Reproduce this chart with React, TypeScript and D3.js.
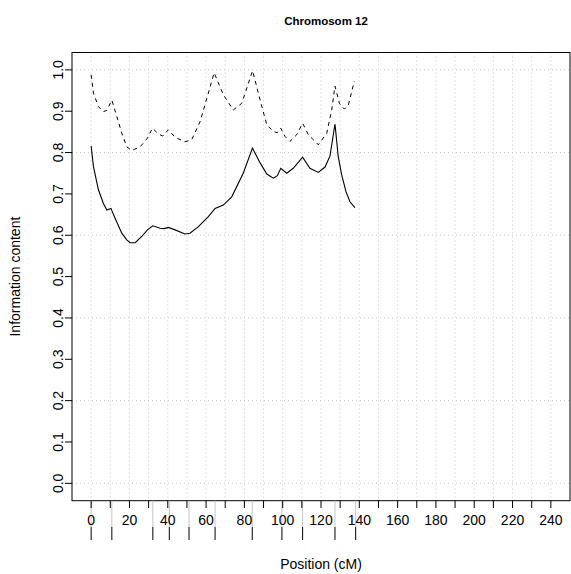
import React from "react";
import * as d3 from "d3";

const title = "Chromosom 12";
const xLabel = "Position (cM)";
const yLabel = "Information content";

const dashPos = [0, 1.2, 3.8, 6.4, 8.2, 10.8, 13.4, 16, 18.6, 21.2, 25.6, 29.4, 32, 35.1, 37.4, 40.3, 43.8, 49, 52.5, 56.9, 61.2, 64.2, 69, 74.2, 78.6, 84.3, 88.2, 91.7, 95.1, 97.2, 99, 101.2, 103.8, 107.3, 110.4, 113.4, 118.6, 123, 125.6, 127.3, 129.6, 132.2, 134.3, 137.4];
const dashVal = [0.988, 0.944, 0.911, 0.899, 0.902, 0.927, 0.887, 0.847, 0.814, 0.805, 0.814, 0.835, 0.859, 0.845, 0.84, 0.855, 0.837, 0.826, 0.831, 0.875, 0.944, 0.993, 0.94, 0.903, 0.919, 0.998, 0.927, 0.867, 0.851, 0.848, 0.859, 0.839, 0.827, 0.843, 0.871, 0.843, 0.819, 0.847, 0.903, 0.961, 0.919, 0.905, 0.915, 0.973];

const solidPos = [0, 1.2, 3.8, 6.4, 8.2, 10.3, 12.5, 16, 18.6, 20.3, 23, 26.4, 29.4, 32.2, 36, 38.1, 40.3, 43.8, 49, 51.6, 56, 61.2, 64.7, 69, 73.4, 79.4, 84.2, 88.2, 91.7, 95.1, 97.2, 99, 102.1, 105.5, 110.4, 114.2, 118.6, 122.1, 124.7, 127.3, 129, 130.8, 133, 135.1, 137.7];
const solidVal = [0.816, 0.766, 0.71, 0.677, 0.661, 0.665, 0.641, 0.605, 0.589, 0.582, 0.582, 0.597, 0.613, 0.623, 0.617, 0.616, 0.619, 0.613, 0.603, 0.605, 0.621, 0.645, 0.665, 0.673, 0.693, 0.75, 0.811, 0.775, 0.748, 0.738, 0.744, 0.762, 0.75, 0.762, 0.789, 0.762, 0.752, 0.765, 0.792, 0.869, 0.79, 0.746, 0.706, 0.681, 0.667];

const markers = [0, 10.8, 32.2, 40.8, 51.1, 64.7, 84.1, 99.6, 110.4, 127.3, 138.1];

const xTicks = d3.range(0, 241, 10);
const xTickLabels = d3.range(0, 241, 20);
const yTicks = d3.range(0, 1.001, 0.1);
const yGrid = d3.range(0, 1.001, 0.2);

const W = 571, H = 574;
const L = 72, R = 570, T = 52.5, B = 500.7;
const FONT = "'Liberation Sans', Arial, Helvetica, sans-serif";

export default function App() {
  const x = d3.scaleLinear().domain([-10, 250]).range([L, R]);
  const y = d3.scaleLinear().domain([-0.042, 1.042]).range([B, T]);
  const line = d3.line<[number, number]>().x(d => x(d[0])).y(d => y(d[1]));
  const dashPts = dashPos.map((p, i) => [p, dashVal[i]] as [number, number]);
  const solidPts = solidPos.map((p, i) => [p, solidVal[i]] as [number, number]);

  return (
    <svg width={W} height={H} style={{ position: "absolute", left: 0, top: 0, background: "#fff" }} fontFamily={FONT}>
      <rect x={0} y={0} width={W} height={H} fill="#fff" />
      {/* grid */}
      {xTicks.map(t => (
        <line key={"gx" + t} x1={x(t)} x2={x(t)} y1={T} y2={B} stroke="#c8c8c8" strokeDasharray="1,3" />
      ))}
      {yGrid.map(t => (
        <line key={"gy" + t} x1={L} x2={R} y1={y(t)} y2={y(t)} stroke="#c8c8c8" strokeDasharray="1,3" />
      ))}
      {/* curves */}
      <path d={line(dashPts) || ""} fill="none" stroke="#000" strokeWidth={1} strokeDasharray="4,4" />
      <path d={line(solidPts) || ""} fill="none" stroke="#000" strokeWidth={1.1} />
      {/* box */}
      <rect x={L} y={T} width={R - L} height={B - T} fill="none" stroke="#000" strokeWidth={1} />
      {/* markers */}
      {markers.map((m, i) => (
        <g key={"m" + i}>
          <line x1={x(m)} x2={x(m)} y1={B} y2={527} stroke="#c4c4c4" strokeWidth={1} />
          <line x1={x(m)} x2={x(m)} y1={527} y2={540} stroke="#000" strokeWidth={1} />
        </g>
      ))}
      {/* x axis */}
      {xTicks.map(t => (
        <line key={"xt" + t} x1={x(t)} x2={x(t)} y1={B} y2={508} stroke="#000" />
      ))}
      {xTickLabels.map(t => (
        <text key={"xl" + t} x={x(t)} y={525} fontSize={14} textAnchor="middle" fill="#000">{t}</text>
      ))}
      {/* y axis */}
      {yTicks.map(t => (
        <line key={"yt" + t} x1={65} x2={L} y1={y(t)} y2={y(t)} stroke="#000" />
      ))}
      {yTicks.map(t => (
        <text key={"yl" + t} transform={`translate(63,${y(t)}) rotate(-90)`} fontSize={14} textAnchor="middle" fill="#000">{t.toFixed(1)}</text>
      ))}
      {/* labels */}
      <text x={326} y={25} fontSize={11.5} fontWeight="bold" textAnchor="middle">{title}</text>
      <text x={321} y={569} fontSize={14} textAnchor="middle">{xLabel}</text>
      <text transform={`translate(20,${(T + B) / 2}) rotate(-90)`} fontSize={14} textAnchor="middle">{yLabel}</text>
    </svg>
  );
}
